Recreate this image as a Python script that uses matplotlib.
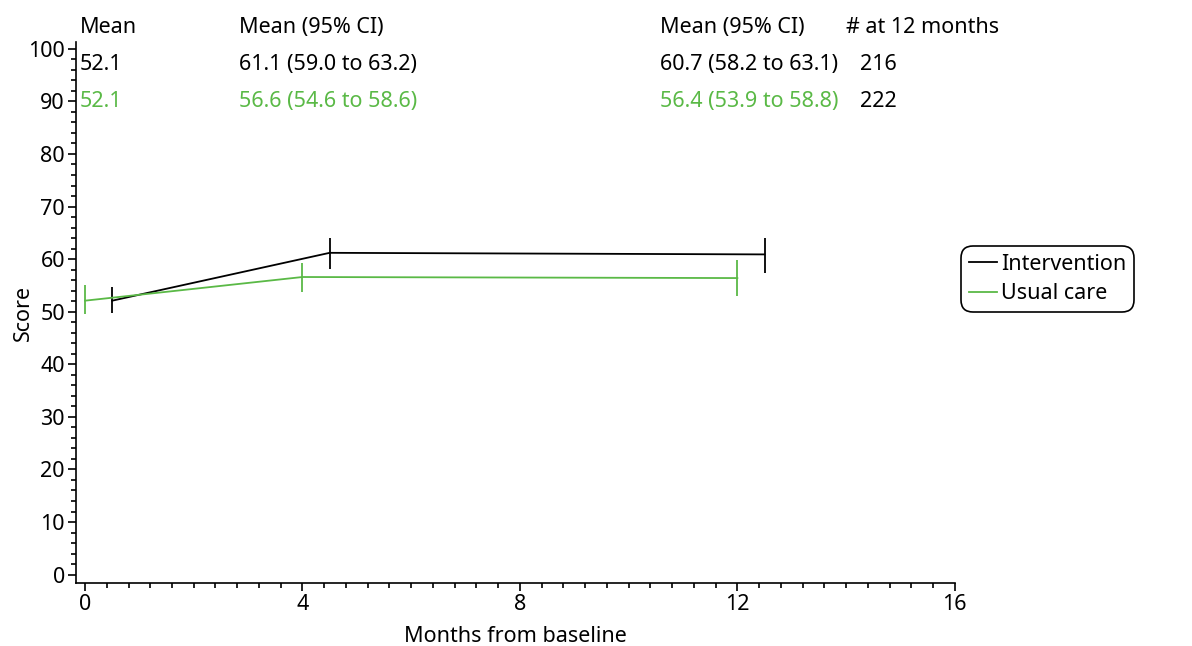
import matplotlib
matplotlib.use("Agg")
import matplotlib.pyplot as plt
from matplotlib.ticker import MultipleLocator

plt.rcParams["font.family"] = ["Noto Sans", "DejaVu Sans"]

# Données
mois_int = [0.5, 4.5, 12.5]
score_int = [52.1, 61.2, 60.9]
bas_int = [49.7, 58.2, 57.4]
haut_int = [54.7, 64.1, 64.1]

mois_uc = [0.0, 4.0, 12.0]
score_uc = [52.1, 56.6, 56.4]
bas_uc = [49.5, 53.8, 52.9]
haut_uc = [55.0, 59.3, 59.9]

entetes = ["Mean", "Mean (95% CI)", "Mean (95% CI)", "# at 12 months"]
ligne_int = ["52.1", "61.1 (59.0 to 63.2)", "60.7 (58.2 to 63.1)", "216"]
ligne_uc = ["52.1", "56.6 (54.6 to 58.6)", "56.4 (53.9 to 58.8)", "222"]

noir = "black"
vert = "#5ab946"
taille = 15.5

fig = plt.figure(figsize=(11.92, 6.46), dpi=100)
ax = fig.add_axes([0.0638, 0.0975, 0.7372, 0.8375])

ax.plot(mois_int, score_int, color=noir, lw=1.3, label="Intervention")
ax.vlines(mois_int, bas_int, haut_int, color=noir, lw=1.3)
ax.plot(mois_uc, score_uc, color=vert, lw=1.3, label="Usual care")
ax.vlines(mois_uc, bas_uc, haut_uc, color=vert, lw=1.3)

ax.set_xlim(-0.165, 16)
ax.set_ylim(-1.6, 101.3)
ax.xaxis.set_major_locator(MultipleLocator(4))
ax.xaxis.set_minor_locator(MultipleLocator(0.4))
ax.yaxis.set_major_locator(MultipleLocator(10))
ax.yaxis.set_minor_locator(MultipleLocator(2))
ax.tick_params(which="major", length=6, width=1.2, labelsize=taille, pad=2)
ax.tick_params(which="minor", length=3.5, width=1.2)
for s in ["top", "right"]:
    ax.spines[s].set_visible(False)
for s in ["left", "bottom"]:
    ax.spines[s].set_linewidth(1.2)

ax.set_xlabel("Months from baseline", fontsize=taille, labelpad=8)
ax.set_ylabel("Score", fontsize=taille, labelpad=-4)

# Tableau en haut du graphique
col_x = [-0.09, 2.83, 10.58, 14.0]
ligne_x = [-0.09, 2.83, 10.58, 14.25]
for i, txt in enumerate(entetes):
    ax.text(col_x[i], 104.1, txt, fontsize=taille, va="center", ha="left", clip_on=False)
for i, txt in enumerate(ligne_int):
    ax.text(ligne_x[i], 97.1, txt, fontsize=taille, va="center", ha="left", color=noir, clip_on=False)
for i, txt in enumerate(ligne_uc):
    c = noir if i == 3 else vert
    ax.text(ligne_x[i], 89.9, txt, fontsize=taille, va="center", ha="left", color=c, clip_on=False)

leg = ax.legend(loc="center left", bbox_to_anchor=(1.0, 0.562), fontsize=taille,
                frameon=True, fancybox=True, handlelength=1.3, handletextpad=0.2,
                borderpad=0.35, labelspacing=0.4, borderaxespad=0.3)
cadre = leg.get_frame()
cadre.set_edgecolor("black")
cadre.set_linewidth(1.2)
cadre.set_alpha(1)
cadre.set_boxstyle("round", pad=0, rounding_size=0.55)

fig.savefig("out.png", dpi=100)
